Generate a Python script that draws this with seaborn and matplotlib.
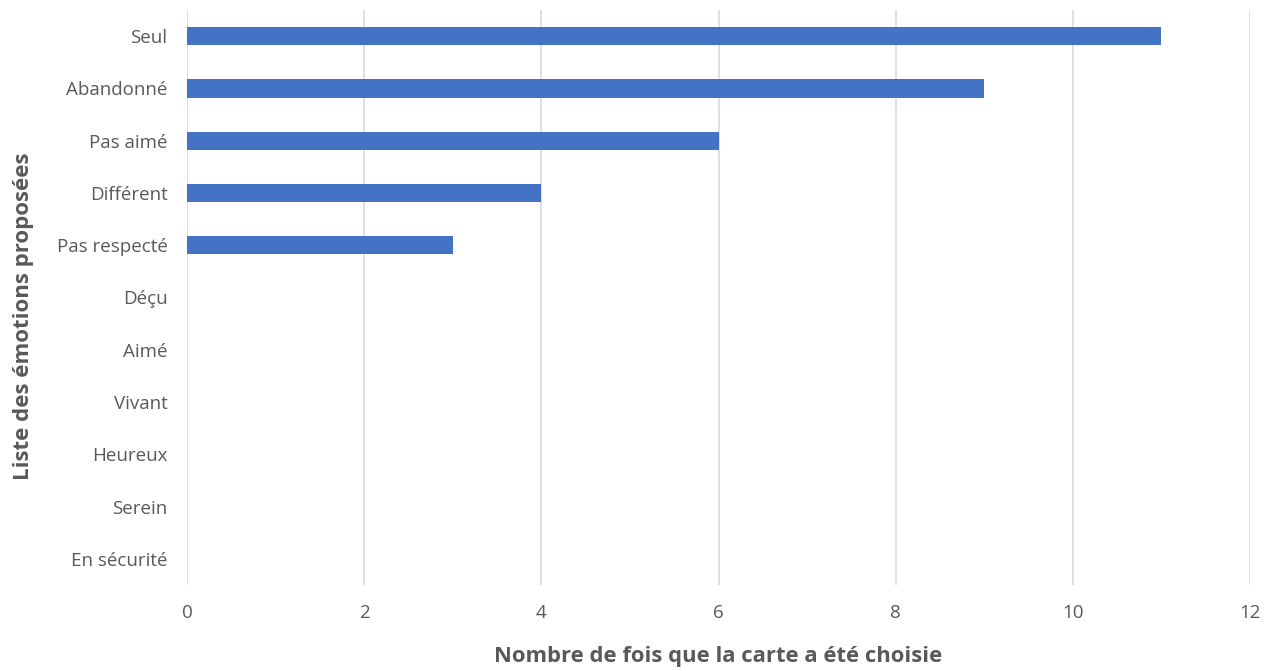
import matplotlib
matplotlib.use("Agg")
import matplotlib.pyplot as plt
import seaborn as sns
import pandas as pd

emotions = ["Seul", "Abandonné", "Pas aimé", "Différent", "Pas respecté", "Déçu",
            "Aimé", "Vivant", "Heureux", "Serein", "En sécurité"]
counts = [11, 9, 6, 4, 3, 0, 0, 0, 0, 0, 0]
x_ticks = [0, 2, 4, 6, 8, 10, 12]

sns.set_theme(style="white")
plt.rcParams['font.family'] = ['Open Sans', 'DejaVu Sans']

df = pd.DataFrame({"emotion": emotions, "count": counts})

fig = plt.figure(figsize=(12.77, 6.71), dpi=100)
ax = fig.add_axes([187/1277, 1 - 585/671, (1250 - 187)/1277, (585 - 10)/671])

sns.barplot(data=df, x="count", y="emotion", orient="h", color="#4472C4",
            width=0.35, saturation=1, linewidth=0, ax=ax, zorder=3)

ax.set_xlim(0, 12)
ax.set_xticks(x_ticks)
ax.set_ylim(10.5, -0.5)
ax.grid(axis="x", color="#d9d9d9", linewidth=1.2, zorder=0)
ax.set_axisbelow(True)
for s in ax.spines.values():
    s.set_visible(False)

text_color = "#595959"
ax.tick_params(axis="both", length=0, labelsize=13.5, labelcolor=text_color)
ax.tick_params(axis="x", pad=14)
ax.tick_params(axis="y", pad=14)

ax.set_xlabel("Nombre de fois que la carte a été choisie", fontsize=15.8,
              fontweight="bold", color=text_color, labelpad=17)
ax.set_ylabel("Liste des émotions proposées", fontsize=16,
              fontweight="bold", color=text_color)
ax.yaxis.set_label_coords(-0.144, 0.468)

fig.savefig("out.png", dpi=100)
